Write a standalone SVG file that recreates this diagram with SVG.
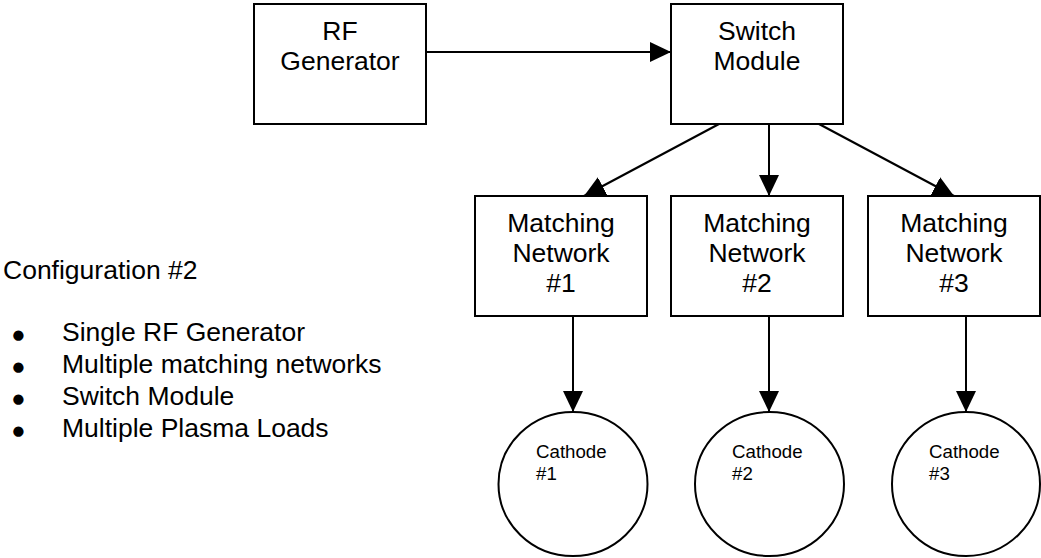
<svg xmlns="http://www.w3.org/2000/svg" width="1041" height="558" viewBox="0 0 1041 558">
<style>
  .box { fill: #ffffff; stroke: #000000; stroke-width: 2; }
  .lbl { font-family: "Liberation Sans", Arial, sans-serif; font-size: 26.5px; fill: #000000; text-anchor: middle; }
  .small { font-family: "Liberation Sans", Arial, sans-serif; font-size: 18.7px; fill: #000000; }
  .txt { font-family: "Liberation Sans", Arial, sans-serif; font-size: 26.5px; fill: #000000; }
  .bul { font-family: "DejaVu Sans", sans-serif; font-size: 13.5px; fill: #000000; text-anchor: middle; }
  .conn { stroke: #000000; stroke-width: 2; fill: none; marker-end: url(#arrow); }
</style>
<defs>
  <marker id="arrow" markerWidth="21" markerHeight="21" viewBox="0 0 21 21" refX="21" refY="10.5" orient="auto" markerUnits="userSpaceOnUse">
    <path d="M0,0.5 L21,10.5 L0,20.5 Z" fill="#000000"/>
  </marker>
</defs>
<rect width="1041" height="558" fill="#ffffff"/>

<g id="connectors">
  <line class="conn" x1="426" y1="52" x2="671" y2="52"/>
  <line class="conn" x1="719" y1="124" x2="584" y2="196"/>
  <line class="conn" x1="769" y1="124" x2="769" y2="196"/>
  <line class="conn" x1="819" y1="124" x2="954" y2="196"/>
  <line class="conn" x1="573" y1="316" x2="573" y2="412"/>
  <line class="conn" x1="769" y1="316" x2="769" y2="412"/>
  <line class="conn" x1="966" y1="316" x2="966" y2="412"/>
</g>

<g id="rf-generator">
  <rect class="box" x="254" y="4" width="172" height="120"/>
  <text class="lbl" x="340" y="40">RF</text>
  <text class="lbl" x="340" y="70">Generator</text>
</g>

<g id="switch-module">
  <rect class="box" x="671" y="4" width="172" height="120"/>
  <text class="lbl" x="757" y="40">Switch</text>
  <text class="lbl" x="757" y="70">Module</text>
</g>

<g id="matching-network-1">
  <rect class="box" x="475" y="196" width="172" height="120"/>
  <text class="lbl" x="561" y="232">Matching</text>
  <text class="lbl" x="561" y="262">Network</text>
  <text class="lbl" x="561" y="292">#1</text>
</g>

<g id="matching-network-2">
  <rect class="box" x="671" y="196" width="172" height="120"/>
  <text class="lbl" x="757" y="232">Matching</text>
  <text class="lbl" x="757" y="262">Network</text>
  <text class="lbl" x="757" y="292">#2</text>
</g>

<g id="matching-network-3">
  <rect class="box" x="868" y="196" width="172" height="120"/>
  <text class="lbl" x="954" y="232">Matching</text>
  <text class="lbl" x="954" y="262">Network</text>
  <text class="lbl" x="954" y="292">#3</text>
</g>

<g id="cathode-1">
  <ellipse class="box" cx="573" cy="484" rx="74.5" ry="72"/>
  <text class="small" x="536" y="458">Cathode</text>
  <text class="small" x="536" y="480">#1</text>
</g>

<g id="cathode-2">
  <ellipse class="box" cx="769.5" cy="484" rx="74.5" ry="72"/>
  <text class="small" x="732" y="458">Cathode</text>
  <text class="small" x="732" y="480">#2</text>
</g>

<g id="cathode-3">
  <ellipse class="box" cx="966" cy="484" rx="74" ry="72"/>
  <text class="small" x="929" y="458">Cathode</text>
  <text class="small" x="929" y="480">#3</text>
</g>

<g id="notes">
  <text class="txt" x="3" y="279">Configuration #2</text>
  <text class="bul" x="18.5" y="339">●</text>
  <text class="txt" x="62" y="341">Single RF Generator</text>
  <text class="bul" x="18.5" y="371">●</text>
  <text class="txt" x="62" y="373">Multiple matching networks</text>
  <text class="bul" x="18.5" y="403">●</text>
  <text class="txt" x="62" y="405">Switch Module</text>
  <text class="bul" x="18.5" y="435">●</text>
  <text class="txt" x="62" y="437">Multiple Plasma Loads</text>
</g>
</svg>
